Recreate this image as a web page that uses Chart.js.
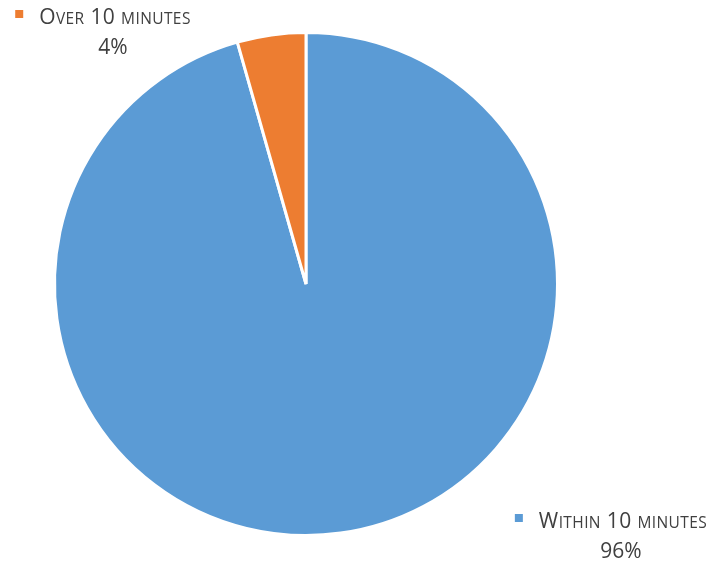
<!DOCTYPE html>
<html>
<head>
<meta charset="utf-8">
<script src="https://cdn.jsdelivr.net/npm/chart.js@4"></script>
<style>
  html, body { margin: 0; padding: 0; background: #fff; }
  #wrap { width: 714px; height: 565px; }
</style>
</head>
<body>
<div id="wrap"><canvas id="pie"></canvas></div>
<script>
const categories = ['Within 10 minutes', 'Over 10 minutes'];
const shares = [95.6, 4.4];
const percentLabels = ['96%', '4%'];
const sliceColors = ['#5B9BD5', '#ED7D31'];

// where each label sits (centre x, baseline of the name line)
const labelSpots = [
    { x: 623, y: 528 },
    { x: 115, y: 24 }
];

const FONT = '"Open Sans", sans-serif';
const BIG = 21;
const SMALL = 15.5;
const TEXT_COLOR = '#404040';

// draw text in small caps: capitals and digits full size, lowercase as smaller capitals
function smallCapsParts(str) {
    return str.split('').map(ch => {
        const lower = ch !== ch.toUpperCase();
        return { ch: ch.toUpperCase(), size: lower ? SMALL : BIG };
    });
}

function partsWidth(ctx, parts) {
    let w = 0;
    parts.forEach(p => {
        ctx.font = `${p.size}px ${FONT}`;
        w += ctx.measureText(p.ch).width + 0.4;
    });
    return w;
}

const labelPlugin = {
    id: 'pieLabels',
    afterDraw(chart) {
        const ctx = chart.ctx;
        ctx.save();
        ctx.textBaseline = 'alphabetic';
        ctx.textAlign = 'left';
        categories.forEach((name, i) => {
            const spot = labelSpots[i];
            const parts = smallCapsParts(name);
            const w = partsWidth(ctx, parts);
            let x = spot.x - w / 2;

            // legend key square
            ctx.fillStyle = sliceColors[i];
            ctx.fillRect(x - 24, spot.y - 14, 8, 8);

            ctx.fillStyle = TEXT_COLOR;
            parts.forEach(p => {
                ctx.font = `${p.size}px ${FONT}`;
                ctx.fillText(p.ch, x, spot.y);
                x += ctx.measureText(p.ch).width + 0.4;
            });

            ctx.font = `${BIG}px ${FONT}`;
            ctx.textAlign = 'center';
            ctx.fillText(percentLabels[i], spot.x - 2, spot.y + 30);
            ctx.textAlign = 'left';
        });
        ctx.restore();
    }
};

new Chart(document.getElementById('pie'), {
    type: 'pie',
    data: {
        labels: categories,
        datasets: [{
            data: shares,
            backgroundColor: sliceColors,
            borderColor: '#ffffff',
            borderWidth: 3
        }]
    },
    options: {
        responsive: true,
        maintainAspectRatio: false,
        animation: false,
        layout: { padding: { top: 31, bottom: 28, left: 53, right: 155 } },
        plugins: {
            legend: { display: false },
            tooltip: { enabled: false }
        }
    },
    plugins: [labelPlugin]
});
</script>
</body>
</html>
